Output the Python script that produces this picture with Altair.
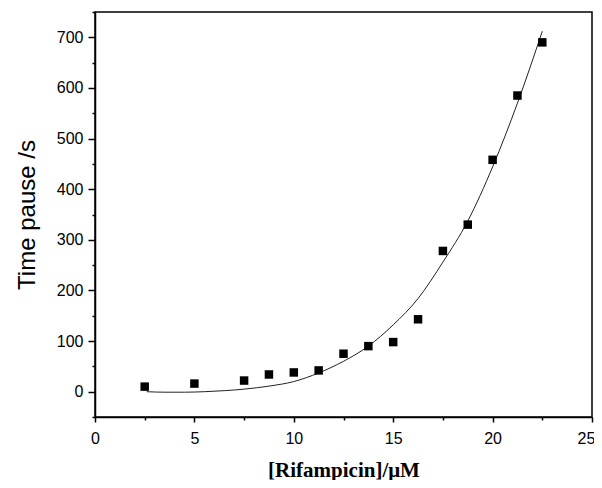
import altair as alt
import pandas as pd

# Data
conc = [2.5, 5.0, 7.5, 8.75, 10.0, 11.25, 12.5, 13.75, 15.0, 16.25, 17.5, 18.75, 20.0, 21.25, 22.5]
pause = [10, 16, 22, 34, 38, 42, 75, 90, 98, 143, 278, 330, 458, 585, 690]

# Fitted curve
fit_x = [2.6, 3.5, 4.5, 5.5, 6.5, 7.5, 8.75, 10.0, 11.25, 12.5, 13.75, 15.0, 16.25, 17.5, 18.75, 20.0, 21.25, 22.5]
fit_y = [0, -1, -1, 0, 2, 5, 11, 20, 37, 60, 90, 132, 184, 256, 337, 444, 570, 712]

x_major = [0, 5, 10, 15, 20, 25]
x_minor = [2.5, 7.5, 12.5, 17.5, 22.5]
y_major = [0, 100, 200, 300, 400, 500, 600, 700]
y_minor = [-50, 50, 150, 250, 350, 450, 550, 650, 750]

df = pd.DataFrame({"x": conc, "y": pause})
df_fit = pd.DataFrame({"x": fit_x, "y": fit_y})

xs = alt.Scale(domain=[0, 25], nice=False, zero=False)
ys = alt.Scale(domain=[-50, 750], nice=False, zero=False)

common_axis = dict(
    domainColor="black", domainWidth=1.5, tickColor="black", tickWidth=1.5,
    labelFont="Liberation Sans", labelFontSize=16, labelColor="black",
    grid=False,
)

points = alt.Chart(df).mark_square(size=72, color="black", opacity=1).encode(
    x=alt.X("x:Q", scale=xs,
            axis=alt.Axis(orient="bottom", values=x_major, tickSize=5, labelPadding=8,
                          labelOffset=alt.ExprRef(expr="datum.value == 25 ? -6 : 0"),
                          title="[Rifampicin]/μM", titleFont="Liberation Serif",
                          titleFontWeight="bold", titleFontSize=21, titleColor="black",
                          titlePadding=13, labelFlush=False, **common_axis)),
    y=alt.Y("y:Q", scale=ys,
            axis=alt.Axis(orient="left", values=y_major, tickSize=7, labelPadding=5,
                          title="Time pause /s", titleFont="Liberation Sans",
                          titleFontWeight="normal", titleFontSize=24, titleColor="black",
                          titlePadding=17, labelFlush=False, **common_axis)),
)

fit = alt.Chart(df_fit).mark_line(color="#222222", strokeWidth=1, interpolate="monotone").encode(
    x=alt.X("x:Q", scale=xs,
            axis=alt.Axis(orient="bottom", values=x_minor, tickSize=3, labels=False,
                          domain=False, title=None, tickColor="black", tickWidth=1.5,
                          grid=False)),
    y=alt.Y("y:Q", scale=ys,
            axis=alt.Axis(orient="left", values=y_minor, tickSize=3, labels=False,
                          domain=False, title=None, tickColor="black", tickWidth=1.5,
                          grid=False)),
)

chart = alt.layer(fit, points).resolve_axis(x="independent", y="independent").properties(
    width=497, height=405,
    autosize=alt.AutoSizeParams(type="none"),
    padding={"left": 87, "top": 4, "right": 2, "bottom": 63},
    background="white",
).configure_view(stroke="black", strokeWidth=1.5)

chart.save("out.html", embed_options={"renderer": "svg", "actions": False})
